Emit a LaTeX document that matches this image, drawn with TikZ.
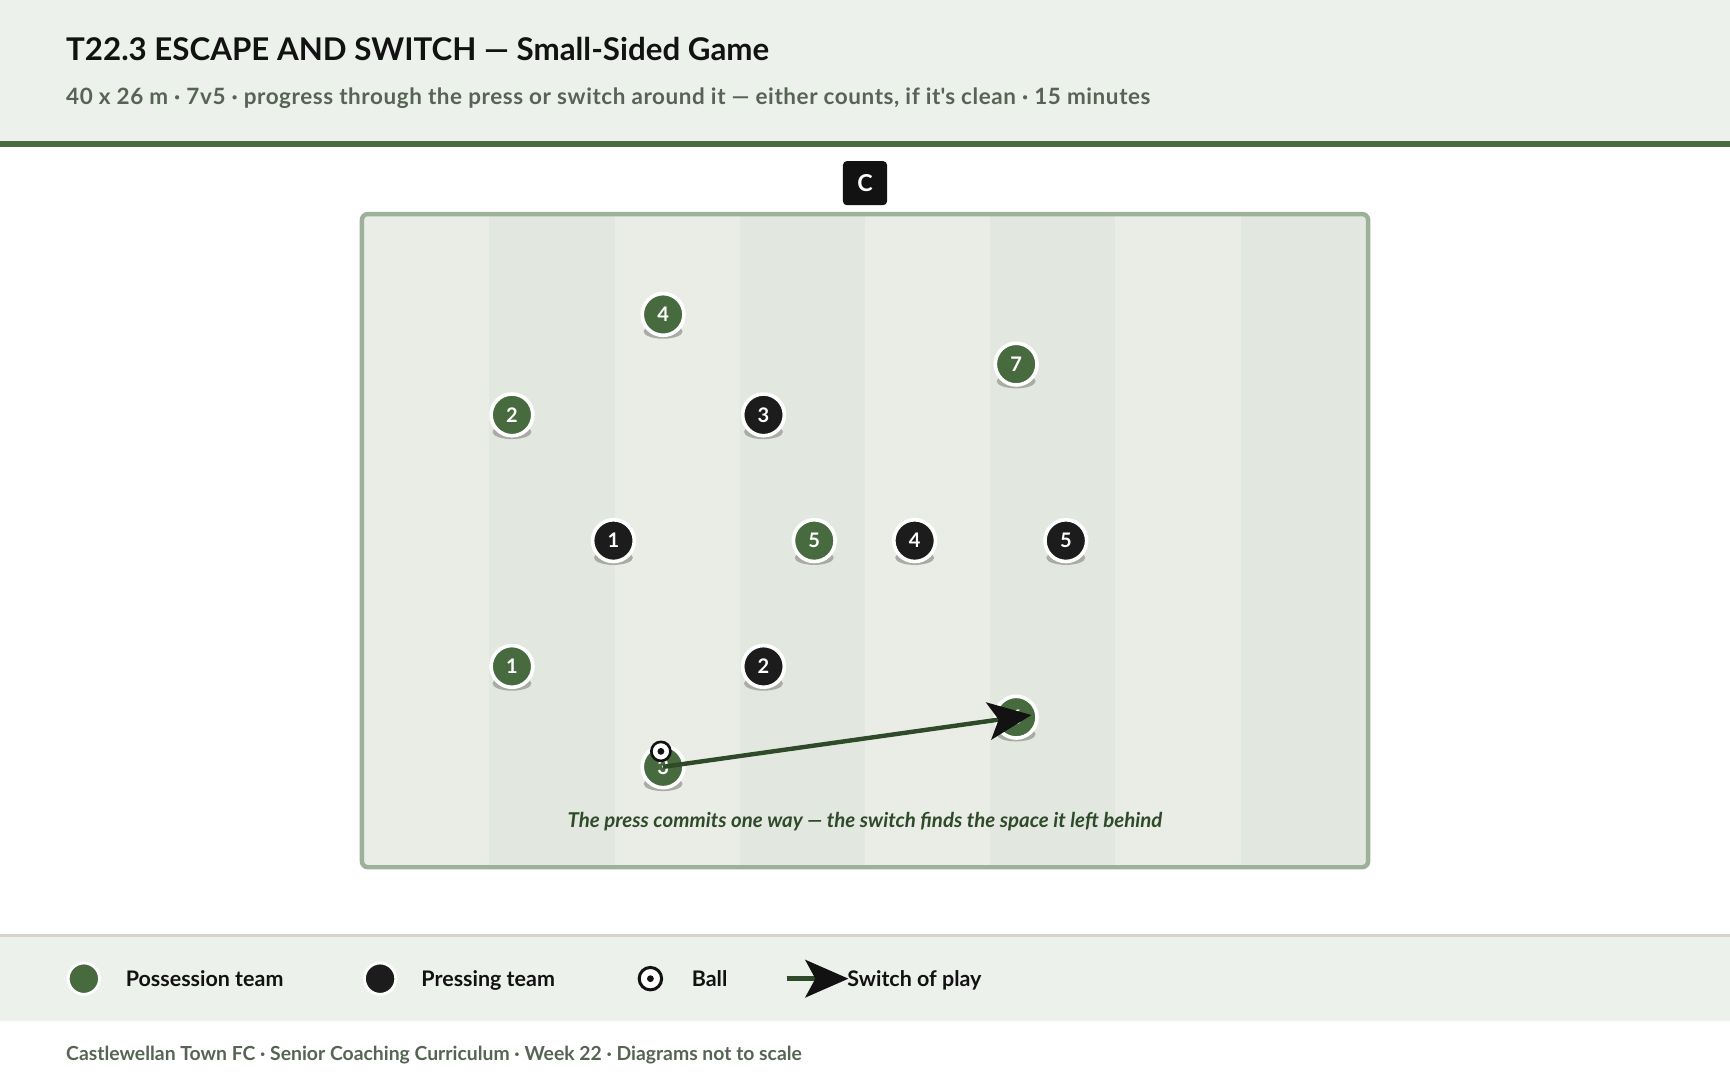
\documentclass[tikz,border=0pt]{standalone}
\usepackage{fontspec}
\setmainfont{Lato}
\usepackage{tikz}
\usetikzlibrary{arrows.meta}
\usetikzlibrary{calc}
\usetikzlibrary{backgrounds}
%%%%%%% colours
\definecolor{headbg}{HTML}{EDF1EC}
\definecolor{rulegreen}{HTML}{4A6B40}
\definecolor{subgrey}{HTML}{566453}
\definecolor{stripelight}{HTML}{E9EDE6}
\definecolor{stripedark}{HTML}{E2E8DF}
\definecolor{pitchline}{HTML}{9DB09A}
\definecolor{possgreen}{HTML}{476B3E}
\definecolor{pressblack}{HTML}{1C1C1C}
\definecolor{shadowgrey}{HTML}{A8ACA5}
\definecolor{switchgreen}{HTML}{2E4A29}
\definecolor{captiongreen}{HTML}{2F4A2A}
\definecolor{legendrule}{HTML}{D6D4CB}
\definecolor{inkblack}{HTML}{121212}
\tikzset{
%%%%%%%%%%  Text styles
plaintext/.style={inner sep=0pt, outer sep=0pt, anchor=base west},
titletext/.style={plaintext, text=inkblack, font=\bfseries\fontsize{15.6}{18}\selectfont},
subtext/.style={plaintext, text=subgrey,
                font=\bfseries\fontsize{11.2}{13}\selectfont\addfontfeature{LetterSpace=2.6}},
legendtext/.style={plaintext, text=inkblack, font=\bfseries\fontsize{10.7}{12}\selectfont},
footertext/.style={plaintext, text=subgrey, font=\bfseries\fontsize{9.65}{11}\selectfont},
captiontext/.style={inner sep=0pt, anchor=base, text=captiongreen,
                    font=\bfseries\itshape\fontsize{10.2}{12}\selectfont},
%%%%%%%%%%  Player styles
possession/.style={circle, fill=possgreen, draw=white, line width=1.8pt,
                   minimum size=20.8pt, inner sep=0pt, text=white,
                   font=\bfseries\fontsize{10}{12}\selectfont},
pressing/.style={possession, fill=pressblack},
legend_possession/.style={possession, line width=1.4pt, minimum size=15.6pt},
legend_pressing/.style={legend_possession, fill=pressblack},
player_shadow/.style={fill=shadowgrey},
ball/.style={circle, fill=white, draw=inkblack, line width=1.3pt,
             minimum size=9.5pt, inner sep=0pt,
             path picture={\fill[inkblack] (path picture bounding box.center) circle (1.7pt);}},
coach/.style={rectangle, rounded corners=2pt, fill=inkblack, text=white,
              minimum size=22pt, inner sep=0pt,
              font=\bfseries\fontsize{11.6}{13}\selectfont},
%%%%%%%%%%  Line styles
switchpass/.style={draw=switchgreen, line width=2.2pt,
               -{Stealth[length=21.5pt, width=18.7pt, inset=5pt, color=inkblack]}}
}

\begin{document}
\begin{tikzpicture}[x=0.55pt, y=-0.55pt]
\useasboundingbox (0,0) rectangle (1568,977);
\begin{scope}[on background layer]
%% header band
\fill[headbg] (0,0) rectangle (1568,128);
\fill[rulegreen] (0,128) rectangle (1568,133.5);
%% pitch, eight stripes
\begin{scope}
\clip[rounded corners=3pt] (328,194) rectangle (1240,786);
\foreach \i in {0,...,7}{
  \ifodd\i \def\stripe{stripedark}\else \def\stripe{stripelight}\fi
  \fill[\stripe] (330+113.5*\i,190) rectangle ++(113.5,600);
}
\end{scope}
\draw[pitchline, line width=2.2pt, rounded corners=3pt] (328,194) rectangle (1240,786);
%% legend band
\fill[headbg] (0,849) rectangle (1568,925);
\fill[legendrule] (0,846.5) rectangle (1568,849.5);
\end{scope}
%%%%%%%%%%%%%%%%%%%%%%%%%%%%%%%%%%%%%%%%%%%%%%
%% titles
\node[titletext] (title) at (60,54.4) {T22.3 ESCAPE AND SWITCH — Small-Sided Game};
\node[subtext] (subtitle) at (60,94.3) {40 x 26 m · 7v5 · progress through the press or switch around it — either counts, if it\textquotesingle s clean · 15 minutes};
\node[coach] (coach) at (784,166) {C};
%%%%%%%%%%%%%%%%%%%%%%%%%%%%%%%%%%%%%%%%%%%%%%
%% possession team
\node[possession] (g4) at (601,285) {4};
\node[possession] (g7) at (921,330) {7};
\node[possession] (g2) at (464,376) {2};
\node[possession] (g5) at (738,490) {5};
\node[possession] (g1) at (464,604) {1};
\node[possession] (g6) at (921,650) {6};
\node[possession] (g3) at (601,695) {3};
%% pressing team
\node[pressing] (b3) at (692,376) {3};
\node[pressing] (b1) at (556,490) {1};
\node[pressing] (b4) at (829,490) {4};
\node[pressing] (b5) at (966,490) {5};
\node[pressing] (b2) at (692,604) {2};
%% shadows under the players
\begin{scope}[on background layer]
\foreach \p in {g1,g2,g3,g4,g5,g6,g7,b1,b2,b3,b4,b5}
  \fill[player_shadow] ([yshift=-8.5pt]\p.center) ellipse [x radius=9.7pt, y radius=3.6pt];
\end{scope}
%% the switch
\coordinate (g6tip) at ($(g6.center)!-7.7pt!(g3.center)$);
\draw[switchpass] (g3.center) -- (g6tip);
\node[ball] (ball) at ($(g3.center)+(-2,-14)$) {};
\node[captiontext] (caption) at (784,750) {The press commits one way — the switch finds the space it left behind};
%%%%%%%%%%%%%%%%%%%%%%%%%%%%%%%%%%%%%%%%%%%%%%
%% legend
\node[legend_possession] (lg-poss) at (76,887) {};
\node[legendtext] (lg-poss-txt) at (114,894.5) {Possession team};
\node[legend_pressing] (lg-press) at (344.5,887) {};
\node[legendtext] (lg-press-txt) at (382,894.5) {Pressing team};
\node[ball, minimum size=11.2pt, line width=1.5pt] (lg-ball) at (589.5,887) {};
\node[legendtext] (lg-ball-txt) at (627,894.5) {Ball};
\coordinate (lg-sw-a) at (713,887);
\coordinate (lg-sw-b) at (769,887);
\draw[switchpass] (lg-sw-a) -- (lg-sw-b);
\node[legendtext] (lg-sw-txt) at (768,894.5) {Switch of play};
%% footer
\node[footertext] (footer) at (60,960.8) {Castlewellan Town FC · Senior Coaching Curriculum · Week 22 · Diagrams not to scale};
\end{tikzpicture}
\end{document}
